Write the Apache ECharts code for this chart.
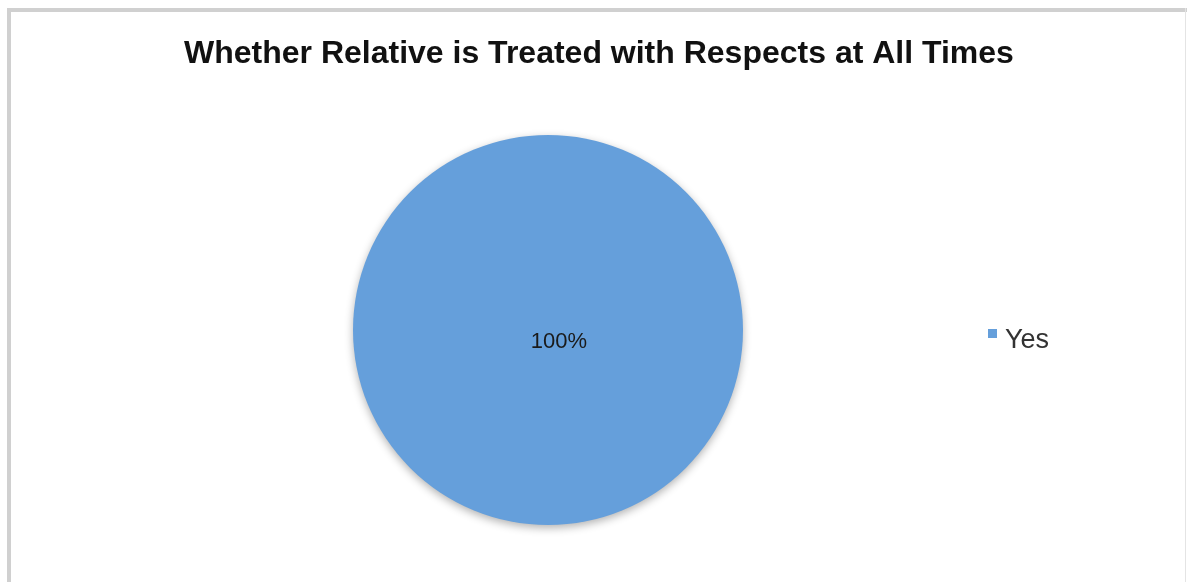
<!DOCTYPE html>
<html>
<head>
<meta charset="utf-8">
<script src="https://cdn.jsdelivr.net/npm/echarts@6/dist/echarts.min.js"></script>
<style>
html,body{margin:0;padding:0;background:#fff;}
#chart{width:1187px;height:582px;}
</style>
</head>
<body>
<div id="chart"></div>
<script>
var titleText = 'Whether Relative is Treated with Respects at All Times';
var categories = ['Yes'];
var values = [100];

var chart = echarts.init(document.getElementById('chart'), null, {renderer: 'canvas'});
chart.setOption({
  backgroundColor: '#ffffff',
  animation: false,
  title: {
    text: titleText,
    left: 179,
    top: 33,
    textStyle: {
      fontFamily: 'Liberation Sans, Arial, sans-serif',
      fontSize: 32,
      fontWeight: 'bold',
      color: '#111111'
    }
  },
  graphic: [
    {type: 'rect', shape: {x: 7, y: 8, width: 4, height: 574}, style: {fill: '#d0d0d0'}},
    {type: 'rect', shape: {x: 7, y: 8, width: 1180, height: 4}, style: {fill: '#d0d0d0'}},
    {type: 'rect', shape: {x: 1185, y: 8, width: 1, height: 574}, style: {fill: '#e4e4e4'}}
  ],
  legend: {
    data: categories,
    left: 983,
    top: 322,
    orient: 'vertical',
    icon: 'path://M0,0L9,0L9,9L0,9ZM0,9L0,23',
    itemWidth: 9,
    itemHeight: 23,
    itemGap: 4,
    textStyle: {
      fontFamily: 'Liberation Sans, Arial, sans-serif',
      fontSize: 27,
      color: '#333333',
      padding: [0, 0, 0, 3]
    }
  },
  series: [{
    type: 'pie',
    center: [548, 330],
    radius: 195,
    startAngle: 90,
    data: categories.map(function (c, i) { return {name: c, value: values[i]}; }),
    label: {
      show: true,
      position: 'center',
      formatter: function (p) { return Math.round(p.percent) + '%'; },
      fontFamily: 'Liberation Sans, Arial, sans-serif',
      fontSize: 22,
      color: '#1a1a1a',
      offset: [11, 12]
    },
    labelLine: {show: false},
    itemStyle: {
      color: '#659fdb',
      shadowBlur: 8,
      shadowOffsetY: 3,
      shadowColor: 'rgba(0,0,0,0.3)'
    },
    emphasis: {disabled: true}
  }]
});
</script>
</body>
</html>
